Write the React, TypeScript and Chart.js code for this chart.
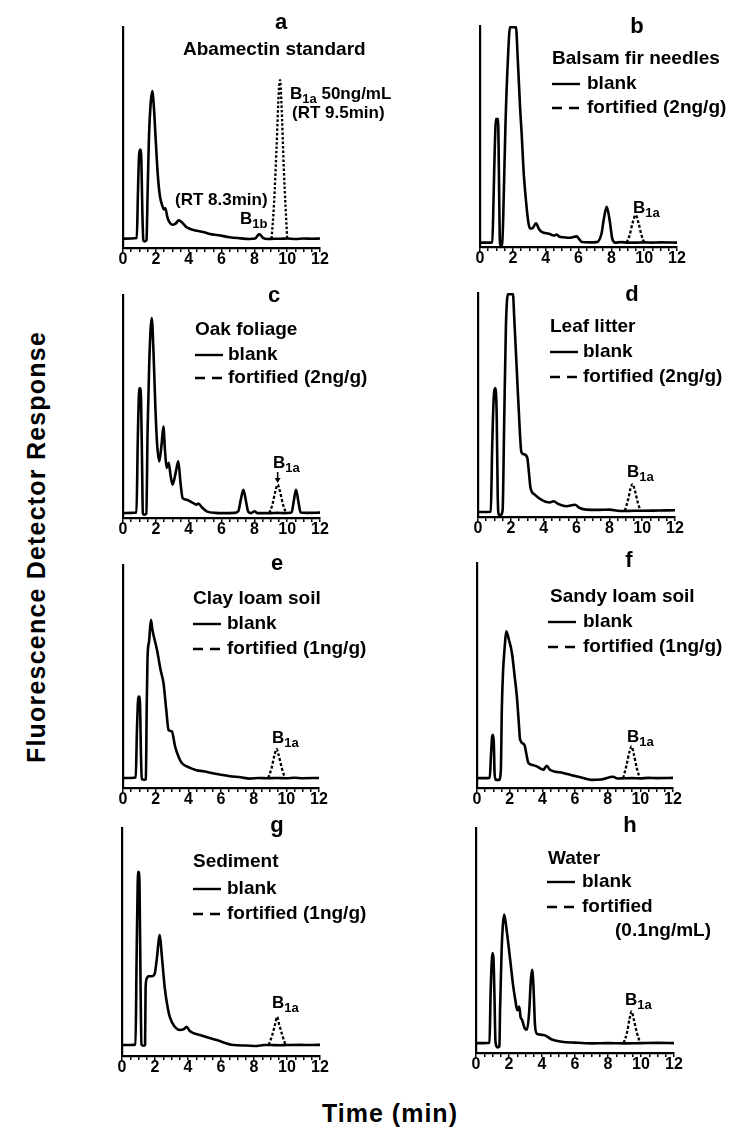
import React, { useEffect, useRef } from "react";
import { Chart, registerables } from "chart.js";

Chart.register(...registerables);

const FONT = "'Liberation Sans', Arial, Helvetica, sans-serif";

// ---------- axis definitions ----------
const timeMin = 0;
const timeMax = 12;
const timeMinorStep = 0.5;
const timeLabels = [0, 2, 4, 6, 8, 10, 12];
const signalMin = 0;
const signalMax = 100;
const yAxisTitle = "Fluorescence Detector Response";
const xAxisTitle = "Time (min)";

// ---------- data: [time (min), relative response] ----------
const aStandard = [[0,4.2],[0.5,4.3],[0.84,4.5],[0.91,25],[0.98,42],[1.05,44.5],[1.12,39],[1.18,16],[1.24,3.5],[1.33,3],[1.43,3.5],[1.5,25],[1.58,50],[1.68,65],[1.78,71],[1.88,64],[2.0,48],[2.12,33],[2.25,23.5],[2.4,19],[2.5,17.5],[2.58,18],[2.7,14],[2.85,11.5],[3.0,10.5],[3.2,11],[3.4,12.5],[3.6,11.5],[3.85,9.5],[4.1,8.6],[4.5,7.8],[5.0,7],[5.3,6.3],[5.8,5.8],[6.5,4.9],[7.0,4.5],[7.7,4.1],[8.05,4.3],[8.3,6.3],[8.55,4.5],[8.8,4.1],[9.2,4.2],[9.6,4.2],[10.0,4.3],[10.5,4.1],[11.0,4.3],[11.5,4.2],[12.0,4.3]];
const aB1a = [[9.05,4.2],[9.2,20],[9.35,45],[9.5,72],[9.57,76],[9.65,66],[9.8,35],[10.0,4.3]];

const bBlank = [[0,2],[0.5,2],[0.75,2.2],[0.82,20],[0.9,45],[0.98,58],[1.05,57],[1.1,58],[1.15,35],[1.2,5],[1.25,0.8],[1.35,1],[1.42,15],[1.55,55],[1.7,85],[1.83,99.5],[2.19,99.5],[2.3,85],[2.45,62],[2.54,51],[2.65,35],[2.8,21],[2.95,11],[3.05,8.4],[3.2,8.5],[3.41,10.7],[3.6,8],[3.76,6.8],[4.2,6],[4.5,5.2],[4.67,5.6],[4.85,4.6],[5.08,4.4],[5.5,4.2],[5.89,4.8],[6.05,3.5],[6.19,2.3],[6.7,2.1],[7.11,2.2],[7.4,6],[7.55,13],[7.72,18.2],[7.9,12],[8.05,4],[8.22,2],[8.6,2.2],[9.0,2],[9.5,2],[10.0,2.1],[10.5,2],[11.0,2.1],[12.0,2]];
const bFortified = [[8.93,2],[9.1,5],[9.3,11],[9.48,14.5],[9.65,11],[9.85,5],[10.0,2]];

const cBlank = [[0,2.2],[0.5,2.3],[0.82,2.5],[0.9,35],[0.97,55],[1.03,58.3],[1.1,53],[1.16,25],[1.21,2],[1.3,1.5],[1.42,2],[1.5,40],[1.6,70],[1.75,89.7],[1.86,74],[1.97,50],[2.08,33],[2.21,25.4],[2.35,33],[2.46,41],[2.56,30],[2.66,22.4],[2.78,24.7],[2.9,19],[3.02,15],[3.2,20],[3.37,25.4],[3.5,16],[3.63,9],[3.88,8.2],[4.2,7],[4.49,6],[4.6,6.5],[4.8,4.8],[5.1,3],[5.6,2.3],[6.2,2.2],[6.8,2.3],[7.02,3],[7.17,8],[7.33,12.7],[7.48,8],[7.63,2.8],[7.8,2.2],[8.01,3],[8.2,2.2],[8.6,2.2],[9.0,2.2],[9.4,2.3],[9.8,2.2],[10.27,2.5],[10.4,7.5],[10.54,12.7],[10.68,7.5],[10.82,2.5],[11.2,2.3],[12.0,2.4]];
const cFortified = [[8.91,2.2],[9.1,6],[9.28,12],[9.42,15],[9.56,12],[9.75,6],[9.93,2.2]];

const dBlank = [[0,2.2],[0.5,2.2],[0.78,2.4],[0.86,30],[0.95,52],[1.06,57.6],[1.14,45],[1.2,10],[1.26,1],[1.4,1],[1.5,3],[1.59,40],[1.7,85],[1.83,99.5],[2.13,99.5],[2.2,90],[2.26,81],[2.4,60],[2.55,38],[2.64,29],[2.8,28],[3.0,26.5],[3.1,20],[3.2,13],[3.46,10],[3.8,8],[4.37,6.5],[4.6,7],[4.9,5.8],[5.39,4.8],[5.9,5.5],[6.2,4],[6.61,3.3],[7.3,3.2],[8.03,3.3],[8.5,2.8],[9.0,2.7],[9.5,2.8],[10.0,2.8],[11.0,2.9],[12.0,3]];
const dFortified = [[8.95,2.8],[9.15,8],[9.3,13],[9.42,14.7],[9.55,12],[9.75,6],[9.9,2.8]];

const eBlank = [[0,4.5],[0.5,4.5],[0.78,4.7],[0.85,25],[0.93,40],[0.98,41],[1.04,38],[1.1,15],[1.15,4],[1.3,3.7],[1.4,4],[1.45,35],[1.5,58],[1.6,66],[1.71,75.4],[1.8,71],[2.08,62],[2.3,53],[2.48,47],[2.65,35],[2.79,26],[2.99,25.4],[3.19,18.6],[3.4,14],[3.6,11.2],[4.11,9],[4.5,8],[4.92,7.5],[5.74,6.3],[6.55,5.3],[7.2,4.8],[7.77,4.2],[8.3,4.5],[8.8,4.4],[9.4,4.5],[10.0,4.4],[10.5,4.6],[11.0,4.4],[12.0,4.5]];
const eFortified = [[8.89,4.5],[9.1,9],[9.28,15],[9.4,17.5],[9.52,15],[9.72,9],[9.91,4.5]];

const fBlank = [[0,4.4],[0.5,4.4],[0.78,4.6],[0.86,15],[0.93,23],[0.98,23.7],[1.03,20],[1.08,6],[1.15,3.6],[1.35,3.6],[1.46,8],[1.52,35],[1.59,51],[1.7,63],[1.79,69.6],[1.95,66],[2.14,60],[2.3,50],[2.44,40.7],[2.55,30],[2.64,21.5],[2.89,19.3],[3.15,11.1],[3.4,10.2],[3.66,9.6],[4.06,8.1],[4.27,9.9],[4.47,8.1],[5.28,6.7],[5.9,5.5],[6.5,4.4],[7.0,3.6],[7.6,3.8],[8.33,5],[8.6,4.2],[9.0,4.3],[9.5,4.4],[10.0,4.3],[10.5,4.5],[11.0,4.4],[12.0,4.5]];
const fFortified = [[8.95,4.4],[9.15,10],[9.33,16],[9.46,18.5],[9.6,15],[9.78,9],[9.96,4.4]];

const gBlank = [[0,4.8],[0.5,4.8],[0.82,5],[0.88,40],[0.95,75],[1.0,80.8],[1.06,76],[1.12,35],[1.18,5],[1.3,4.5],[1.4,5],[1.43,30],[1.5,34],[1.6,35],[1.8,35],[1.98,36],[2.1,42],[2.29,53],[2.4,45],[2.59,30],[2.75,22],[2.9,17],[3.2,12.8],[3.5,11.4],[3.75,11.8],[3.91,12.8],[4.1,11],[4.73,9.2],[5.74,7],[6.76,4.8],[7.5,4.6],[8.18,4.4],[8.6,4.8],[9.0,4.8],[9.5,4.7],[10.0,4.8],[10.8,4.9],[11.5,4.8],[12.0,4.9]];
const gFortified = [[8.89,4.8],[9.1,9],[9.28,14],[9.4,17.2],[9.52,14],[9.72,9],[9.91,4.8]];

const hBlank = [[0,4.4],[0.5,4.4],[0.82,4.6],[0.88,25],[0.95,40],[1.0,44.4],[1.06,42],[1.12,25],[1.18,5],[1.3,2.5],[1.42,3],[1.46,20],[1.55,45],[1.63,57],[1.71,61.5],[1.85,55],[2.07,41.5],[2.25,30],[2.38,23.7],[2.5,19],[2.62,20.7],[2.7,16],[2.79,14.8],[2.95,11],[3.09,10.4],[3.22,18],[3.32,32],[3.4,37],[3.48,30],[3.58,12],[3.7,8.5],[4.1,8],[4.6,6],[5.2,5],[6.0,4.6],[7.0,4.3],[8.0,4.4],[9.0,4.3],[10.0,4.4],[11.0,4.5],[12.0,4.4]];
const hFortified = [[8.95,4.4],[9.15,9],[9.3,15],[9.43,18.5],[9.56,15],[9.75,9],[9.95,4.4]];

// ---------- layout / text configuration ----------
type Seg = { t: string; size: number; shift?: number };
type Label = { segs: Seg[]; dx: number; dy: number };
type PanelCfg = {
  letter: string;
  blank: number[][];
  fortified: number[][];
  dash: number[];
  x0: number; x12: number; top: number; axis: number; right: number;
  titleDx: number; titleDy: number;
  labels: Label[];
  legend?: { dy1: number; dy2: number; lineDx: number; textDx: number; fortText: string };
  arrow?: { t: number; dy1: number; dy2: number };
};

const S = (t: string, size: number, shift = 0): Seg => ({ t, size, shift });
const plain = (t: string, dx: number, dy: number, size = 19): Label => ({ segs: [S(t, size)], dx, dy });
const bSub = (sub: string, dx: number, dy: number, rest = ""): Label => ({
  segs: rest ? [S("B", 17), S(sub, 13, 5), S(rest, 17)] : [S("B", 17), S(sub, 13, 5)],
  dx, dy,
});

const PANELS: PanelCfg[] = [
  {
    letter: "a", blank: aStandard, fortified: aB1a, dash: [2.5, 2],
    x0: 123, x12: 320, top: 27, axis: 248, right: 452, titleDx: 158, titleDy: -4,
    labels: [
      plain("Abamectin standard", 60, 23),
      bSub("1a", 167, 67, " 50ng/mL"),
      plain("(RT 9.5min)", 169, 86, 17),
      plain("(RT 8.3min)", 52, 173, 17),
      bSub("1b", 117, 192),
    ],
  },
  {
    letter: "b", blank: bBlank, fortified: bFortified, dash: [3, 2],
    x0: 480, x12: 677, top: 26, axis: 247, right: 733, titleDx: 157, titleDy: 1,
    labels: [plain("Balsam fir needles", 72, 33), bSub("1a", 153, 182)],
    legend: { dy1: 58, dy2: 82, lineDx: 72, textDx: 107, fortText: "fortified (2ng/g)" },
  },
  {
    letter: "c", blank: cBlank, fortified: cFortified, dash: [3, 2],
    x0: 123, x12: 320, top: 295, axis: 518, right: 452, titleDx: 151, titleDy: 1,
    labels: [plain("Oak foliage", 72, 35), bSub("1a", 150, 168)],
    legend: { dy1: 60, dy2: 83, lineDx: 72, textDx: 105, fortText: "fortified (2ng/g)" },
    arrow: { t: 9.42, dy1: 177, dy2: 187 },
  },
  {
    letter: "d", blank: dBlank, fortified: dFortified, dash: [3, 2],
    x0: 478, x12: 675, top: 293, axis: 517, right: 733, titleDx: 154, titleDy: 2,
    labels: [plain("Leaf litter", 72, 34), bSub("1a", 149, 179)],
    legend: { dy1: 59, dy2: 84, lineDx: 72, textDx: 105, fortText: "fortified (2ng/g)" },
  },
  {
    letter: "e", blank: eBlank, fortified: eFortified, dash: [3, 2],
    x0: 123, x12: 319, top: 565, axis: 788, right: 452, titleDx: 154, titleDy: -1,
    labels: [plain("Clay loam soil", 70, 34), bSub("1a", 149, 173)],
    legend: { dy1: 59, dy2: 84, lineDx: 70, textDx: 104, fortText: "fortified (1ng/g)" },
  },
  {
    letter: "f", blank: fBlank, fortified: fFortified, dash: [3, 2],
    x0: 477, x12: 673, top: 563, axis: 788, right: 733, titleDx: 152, titleDy: -2,
    labels: [plain("Sandy loam soil", 73, 34), bSub("1a", 150, 174)],
    legend: { dy1: 59, dy2: 84, lineDx: 71, textDx: 106, fortText: "fortified (1ng/g)" },
  },
  {
    letter: "g", blank: gBlank, fortified: gFortified, dash: [3, 2],
    x0: 122, x12: 320, top: 828, axis: 1056, right: 452, titleDx: 155, titleDy: -2,
    labels: [plain("Sediment", 71, 34), bSub("1a", 150, 175)],
    legend: { dy1: 61, dy2: 86, lineDx: 71, textDx: 105, fortText: "fortified (1ng/g)" },
  },
  {
    letter: "h", blank: hBlank, fortified: hFortified, dash: [3, 2],
    x0: 476, x12: 674, top: 828, axis: 1053, right: 733, titleDx: 154, titleDy: -2,
    labels: [plain("Water", 72, 31), plain("(0.1ng/mL)", 139, 103), bSub("1a", 149, 172)],
    legend: { dy1: 54, dy2: 79, lineDx: 71, textDx: 106, fortText: "fortified" },
  },
];

const PAD_L = 30;
const PAD_T = 24;
const X_AXIS_H = 24;
const PAD_B = 4;

function drawSegs(ctx: CanvasRenderingContext2D, x: number, y: number, segs: Seg[]) {
  let cx = x;
  for (const s of segs) {
    ctx.font = `bold ${s.size}px ${FONT}`;
    ctx.fillText(s.t, cx, y + (s.shift || 0));
    cx += ctx.measureText(s.t).width;
  }
}

function makeAnnotations(p: PanelCfg) {
  return {
    id: "panelText" + p.letter,
    afterDraw(chart: any) {
      const ctx: CanvasRenderingContext2D = chart.ctx;
      const { left, top } = chart.chartArea;
      ctx.save();
      ctx.fillStyle = "#000";
      ctx.strokeStyle = "#000";
      ctx.textBaseline = "middle";
      ctx.textAlign = "center";
      ctx.font = `bold 22px ${FONT}`;
      ctx.fillText(p.letter, left + p.titleDx, top + p.titleDy);
      ctx.textAlign = "left";
      for (const l of p.labels) drawSegs(ctx, left + l.dx, top + l.dy, l.segs);
      if (p.legend) {
        const lg = p.legend;
        ctx.lineWidth = 2.4;
        ctx.setLineDash([]);
        ctx.beginPath();
        ctx.moveTo(left + lg.lineDx, top + lg.dy1);
        ctx.lineTo(left + lg.lineDx + 28, top + lg.dy1);
        ctx.stroke();
        ctx.setLineDash([10, 7]);
        ctx.beginPath();
        ctx.moveTo(left + lg.lineDx, top + lg.dy2);
        ctx.lineTo(left + lg.lineDx + 28, top + lg.dy2);
        ctx.stroke();
        ctx.setLineDash([]);
        ctx.font = `bold 19px ${FONT}`;
        ctx.fillText("blank", left + lg.textDx, top + lg.dy1);
        ctx.fillText(lg.fortText, left + lg.textDx, top + lg.dy2);
      }
      if (p.arrow) {
        const ax = chart.scales.x.getPixelForValue(p.arrow.t);
        ctx.lineWidth = 1.6;
        ctx.beginPath();
        ctx.moveTo(ax, top + p.arrow.dy1);
        ctx.lineTo(ax, top + p.arrow.dy2 - 2);
        ctx.stroke();
        ctx.beginPath();
        ctx.moveTo(ax - 3, top + p.arrow.dy2 - 4);
        ctx.lineTo(ax + 3, top + p.arrow.dy2 - 4);
        ctx.lineTo(ax, top + p.arrow.dy2 + 1);
        ctx.closePath();
        ctx.fill();
      }
      ctx.restore();
    },
  };
}

function Panel({ p }: { p: PanelCfg }) {
  const ref = useRef<HTMLCanvasElement>(null);
  const left = p.x0 - PAD_L;
  const top = p.top - PAD_T;
  const width = p.right - left;
  const height = p.axis - p.top + PAD_T + X_AXIS_H + PAD_B;
  const padRight = p.right - p.x12;

  useEffect(() => {
    const canvas = ref.current;
    if (!canvas) return;
    const chart = new Chart(canvas, {
      type: "line",
      data: {
        datasets: [
          {
            data: p.blank.map(([x, y]) => ({ x, y })),
            borderColor: "#000",
            borderWidth: 2.6,
            pointRadius: 0,
            fill: false,
            cubicInterpolationMode: "monotone",
          },
          {
            data: p.fortified.map(([x, y]) => ({ x, y })),
            borderColor: "#000",
            borderWidth: 2.3,
            borderDash: p.dash,
            pointRadius: 0,
            fill: false,
            cubicInterpolationMode: "monotone",
          },
        ],
      },
      options: {
        responsive: false,
        animation: false,
        events: [],
        layout: { padding: { left: PAD_L, top: PAD_T, right: padRight, bottom: PAD_B } },
        plugins: { legend: { display: false }, tooltip: { enabled: false } },
        scales: {
          x: {
            type: "linear",
            min: timeMin,
            max: timeMax,
            ticks: {
              stepSize: timeMinorStep,
              maxTicksLimit: 100,
              autoSkip: false,
              maxRotation: 0,
              color: "#000",
              padding: 0,
              font: { family: FONT, size: 16, weight: "bold", lineHeight: 1 },
              callback: (v: any) => (timeLabels.includes(Number(v)) ? String(v) : ""),
            },
            grid: { display: true, drawOnChartArea: false, drawTicks: true, tickLength: 4, color: "#000", lineWidth: 1.5 },
            border: { display: true, color: "#000", width: 2.2 },
            afterFit: (s: any) => { s.height = X_AXIS_H; },
          },
          y: {
            min: signalMin,
            max: signalMax,
            ticks: { display: false },
            grid: { display: false, drawTicks: false },
            border: { display: true, color: "#000", width: 2.2 },
          },
        },
      } as any,
      plugins: [makeAnnotations(p)],
    });
    return () => chart.destroy();
  }, [p]);

  return (
    <canvas
      ref={ref}
      width={width}
      height={height}
      style={{ position: "absolute", left, top, width, height }}
    />
  );
}

export default function App() {
  return (
    <div style={{ position: "absolute", left: 0, top: 0, width: 733, height: 1128, background: "#fff", overflow: "hidden" }}>
      {PANELS.map((p) => (
        <Panel key={p.letter} p={p} />
      ))}
      <div
        style={{
          position: "absolute", left: 36, top: 547,
          transform: "translate(-50%, -50%) rotate(-90deg)",
          whiteSpace: "nowrap", font: `bold 25px ${FONT}`, letterSpacing: "1.2px", color: "#000",
        }}
      >
        {yAxisTitle}
      </div>
      <div
        style={{
          position: "absolute", left: 390, top: 1113,
          transform: "translate(-50%, -50%)",
          whiteSpace: "nowrap", font: `bold 25px ${FONT}`, letterSpacing: "1px", color: "#000",
        }}
      >
        {xAxisTitle}
      </div>
    </div>
  );
}
